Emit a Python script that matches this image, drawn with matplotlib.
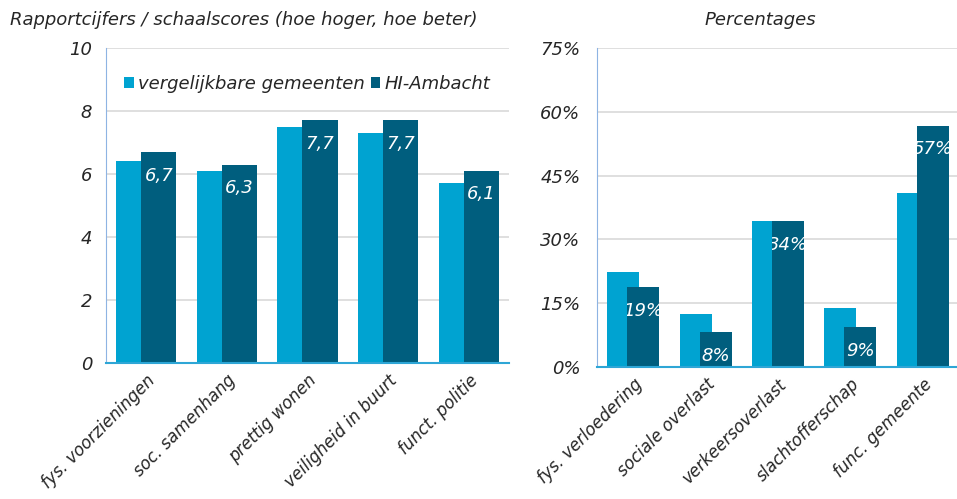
import numpy as np
import matplotlib
matplotlib.use('Agg')
from matplotlib import pyplot as plt

# scores (left) and percentages (right)
score_labels = ['fys. voorzieningen', 'soc. samenhang', 'prettig wonen', 'veiligheid in buurt', 'funct. politie']
score_ref = [6.4, 6.1, 7.5, 7.3, 5.7]
score_hi = [6.7, 6.3, 7.7, 7.7, 6.1]
score_txt = ['6,7', '6,3', '7,7', '7,7', '6,1']

pct_labels = ['fys. verloedering', 'sociale overlast', 'verkeersoverlast', 'slachtofferschap', 'func. gemeente']
pct_ref = [22.3, 12.4, 34.3, 13.8, 40.8]
pct_hi = [18.7, 8.2, 34.3, 9.3, 56.7]
pct_txt = ['19%', '8%', '34%', '9%', '57%']

series_names = ['vergelijkbare gemeenten', 'HI-Ambacht']

light = '#00A3D1'
dark = '#005E7E'
txt_col = '#262626'

plt.rcParams['font.family'] = ['DejaVu Sans']

fig = plt.figure(figsize=(9.57, 4.99), dpi=100)
W, H = 957, 499
ax1 = fig.add_axes([106 / W, 1 - 363 / H, 403 / W, (363 - 48) / H])
ax2 = fig.add_axes([597 / W, 1 - 367 / H, 362 / W, (367 - 48) / H])


def draw(ax, labels, ref, hi, txt, width, off, ymax, yticks, yticklabels, ypad):
    x = np.arange(len(labels))
    b1 = ax.bar(x - off, ref, width, color=light, label=series_names[0], zorder=2)
    b2 = ax.bar(x + off, hi, width, color=dark, label=series_names[1], zorder=3)
    for bar, t in zip(b2, txt):
        a = ax.annotate(t, (bar.get_x() + bar.get_width() / 2, bar.get_height()),
                        xytext=(0, -17), textcoords='offset points', ha='center', va='center',
                        color='white', fontsize=13, fontstyle='italic', zorder=5)
        a.set_clip_path(bar)
    ax.set_xlim(-0.5, len(labels) - 0.5)
    ax.set_ylim(0, ymax)
    ax.set_yticks(yticks)
    ax.set_yticklabels(yticklabels, fontsize=13, fontstyle='italic', color=txt_col)
    ax.set_xticks(x)
    ax.set_xticklabels(labels, rotation=45, ha='right', rotation_mode='anchor',
                       fontsize=12, fontstyle='italic', color=txt_col)
    ax.tick_params(axis='x', length=0, pad=6)
    ax.tick_params(axis='y', length=0, pad=ypad)
    ax.grid(axis='y', color='#D9D9D9', linewidth=1.2, zorder=0)
    for s in ['top', 'right']:
        ax.spines[s].set_visible(False)
    ax.spines['left'].set_color('#8EB4E3')
    ax.spines['bottom'].set_color('#2EA6D6')
    ax.spines['bottom'].set_linewidth(1.5)
    ax.spines['bottom'].set_zorder(4)
    return b1, b2


draw(ax1, score_labels, score_ref, score_hi, score_txt, 0.435, 0.155, 10,
     [0, 2, 4, 6, 8, 10], ['0', '2', '4', '6', '8', '10'], 10)
draw(ax2, pct_labels, pct_ref, pct_hi, pct_txt, 0.44, 0.138, 75,
     [0, 15, 30, 45, 60, 75], ['0%', '15%', '30%', '45%', '60%', '75%'], 12)

fig.text(10 / W, 1 - 20 / H, 'Rapportcijfers / schaalscores (hoe hoger, hoe beter)',
         fontsize=13, fontstyle='italic', color=txt_col, va='center', ha='left')
fig.text(760 / W, 1 - 20 / H, 'Percentages', fontsize=13, fontstyle='italic',
         color=txt_col, va='center', ha='center')

ax1.legend(loc='center right', bbox_to_anchor=(0.977, 0.885), ncol=2, frameon=False,
           prop={'size': 13, 'style': 'italic'}, handlelength=0.55, handleheight=0.55,
           handletextpad=0.25, columnspacing=0.3, labelcolor=txt_col, borderpad=0)

fig.savefig('out.png', dpi=100)
